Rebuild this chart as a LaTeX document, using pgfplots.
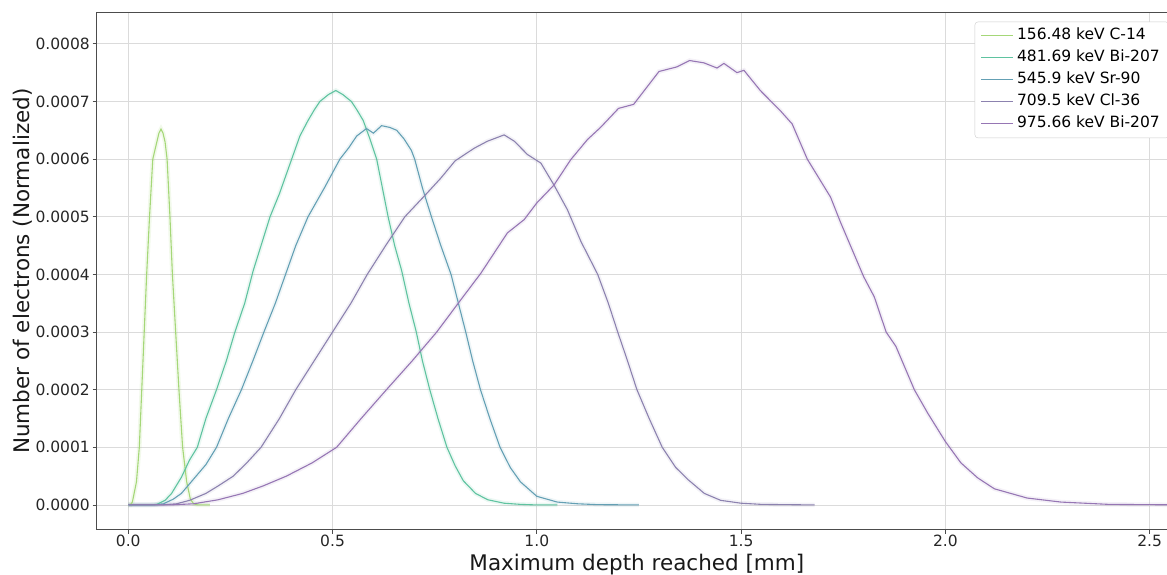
\documentclass[border=0pt]{standalone}
\usepackage{fontspec}
\setmainfont{DejaVu Sans}
\usepackage{pgfplots}
\usepackage{pgfplotstable}
\pgfplotsset{compat=1.18}

\definecolor{cA}{RGB}{165,215,120}
\definecolor{cB}{RGB}{95,195,160}
\definecolor{cC}{RGB}{100,160,180}
\definecolor{cD}{RGB}{140,130,175}
\definecolor{cE}{RGB}{150,118,180}

\pgfplotstableread{
x y
0 0
0.005 0
0.01 0.000005
0.02 0.00004
0.027 0.0001
0.033 0.0002
0.039 0.0003
0.045 0.0004
0.052 0.0005
0.06 0.0006
0.07 0.00063
0.075 0.000645
0.08 0.000652
0.085 0.000645
0.09 0.00063
0.095 0.0006
0.102 0.0005
0.108 0.0004
0.116 0.0003
0.124 0.0002
0.133 0.0001
0.143 0.00004
0.152 0.00001
0.16 0.000002
0.17 0
0.2 0
}\tA

\pgfplotstableread{
x y
0 0
0.05 0
0.07 0.000001
0.09 0.000008
0.106 0.00002
0.13 0.000048
0.15 0.000078
0.169 0.0001
0.19 0.00015
0.216 0.0002
0.24 0.00025
0.261 0.0003
0.285 0.00035
0.306 0.000407
0.325 0.00045
0.347 0.0005
0.37 0.00054
0.40 0.0006
0.42 0.00064
0.44 0.000667
0.455 0.000685
0.469 0.0007
0.49 0.000712
0.508 0.000719
0.525 0.000712
0.546 0.0007
0.56 0.000685
0.575 0.000667
0.59 0.000638
0.608 0.0006
0.622 0.00055
0.636 0.0005
0.652 0.00045
0.669 0.000407
0.687 0.00035
0.705 0.0003
0.72 0.00025
0.738 0.0002
0.758 0.00015
0.78 0.0001
0.80 0.000068
0.82 0.000042
0.85 0.00002
0.88 0.000009
0.92 0.000003
0.96 0.000001
1.0 0
1.05 0
}\tB

\pgfplotstableread{
x y
0 0
0.06 0
0.086 0.000002
0.11 0.00001
0.13 0.00002
0.16 0.000045
0.19 0.00007
0.216 0.0001
0.245 0.00015
0.277 0.0002
0.305 0.00025
0.332 0.0003
0.36 0.00035
0.385 0.0004
0.41 0.00045
0.44 0.0005
0.48 0.00055
0.518 0.0006
0.54 0.00062
0.559 0.00064
0.583 0.000653
0.60 0.000645
0.62 0.000658
0.64 0.000655
0.657 0.00065
0.675 0.000635
0.693 0.000615
0.701 0.0006
0.72 0.00055
0.742 0.0005
0.765 0.00045
0.79 0.0004
0.808 0.00035
0.826 0.0003
0.843 0.00025
0.862 0.0002
0.885 0.00015
0.91 0.0001
0.935 0.000065
0.96 0.00004
1.0 0.000015
1.05 0.000005
1.1 0.000002
1.15 0.0000005
1.25 0
}\tC

\pgfplotstableread{
x y
0 0
0.08 0
0.118 0.000002
0.15 0.000008
0.19 0.00002
0.22 0.000033
0.257 0.00005
0.29 0.000073
0.325 0.0001
0.37 0.00015
0.41 0.0002
0.455 0.00025
0.50 0.0003
0.545 0.00035
0.585 0.0004
0.63 0.00045
0.677 0.0005
0.73 0.00054
0.765 0.000567
0.80 0.000597
0.847 0.000619
0.879 0.000631
0.92 0.000642
0.945 0.000631
0.977 0.000608
1.01 0.000593
1.042 0.000555
1.075 0.000512
1.108 0.000457
1.149 0.0004
1.175 0.00035
1.198 0.0003
1.222 0.00025
1.245 0.0002
1.275 0.00015
1.307 0.0001
1.34 0.000065
1.37 0.000044
1.41 0.00002
1.45 0.000008
1.5 0.000003
1.55 0.000001
1.68 0
}\tD

\pgfplotstableread{
x y
0 0
0.1 0
0.16 0.000002
0.22 0.000009
0.28 0.00002
0.33 0.000033
0.387 0.00005
0.45 0.000073
0.51 0.0001
0.57 0.00015
0.632 0.0002
0.695 0.00025
0.755 0.0003
0.814 0.000356
0.863 0.000402
0.928 0.000472
0.969 0.000495
1.0 0.000524
1.042 0.000555
1.083 0.000599
1.124 0.000634
1.156 0.000655
1.2 0.000688
1.237 0.000695
1.262 0.000718
1.299 0.000752
1.343 0.00076
1.374 0.000771
1.409 0.000767
1.441 0.000758
1.458 0.000766
1.49 0.00075
1.507 0.000754
1.547 0.000719
1.596 0.000684
1.625 0.000661
1.662 0.0006
1.719 0.000534
1.743 0.000491
1.80 0.000396
1.826 0.000361
1.855 0.0003
1.879 0.000275
1.924 0.0002
1.957 0.000159
2.0 0.00011
2.038 0.000073
2.079 0.000047
2.12 0.000028
2.2 0.000012
2.283 0.000005
2.4 0.000001
2.6 0
}\tE

\begin{document}
\begin{tikzpicture}
\useasboundingbox (0,0) rectangle (1167pt,574pt);
\begin{axis}[
  at={(96.7pt,44.5pt)}, anchor=south west,
  scale only axis,
  width=1080.3pt, height=516.8pt,
  xmin=-0.0773, xmax=2.567,
  ymin=-0.0000426, ymax=0.000854,
  xtick={0,0.5,1,1.5,2,2.5},
  ytick={0,0.0001,0.0002,0.0003,0.0004,0.0005,0.0006,0.0007,0.0008},
  scaled y ticks=false, scaled x ticks=false,
  xticklabel style={/pgf/number format/fixed, /pgf/number format/fixed zerofill, /pgf/number format/precision=1},
  yticklabel style={/pgf/number format/fixed, /pgf/number format/fixed zerofill, /pgf/number format/precision=4},
  /pgf/number format/assume math mode=true,
  tick label style={font=\fontsize{15.5}{18}\selectfont, text=black!85},
  xticklabel style={inner sep=0pt, anchor=north, yshift=-1pt},
  yticklabel style={inner sep=0pt, anchor=east, xshift=-2.7pt},
  tick pos=left, tick align=outside,
  major tick length=4pt,
  major tick style={line width=0.8pt, draw=black!70},
  grid=major,
  major grid style={line width=0.8pt, draw=black!14},
  axis line style={line width=1pt, draw=black!70},
  xlabel={Maximum depth reached [mm]},
  ylabel={Number of electrons (Normalized)},
  every axis x label/.style={at={(rel axis cs:0.5,0)}, anchor=base, yshift=-40.5pt,
    font=\fontsize{21.5}{25}\selectfont, text=black!90},
  every axis y label/.style={at={([xshift=-73.7pt]rel axis cs:0,0.5)}, anchor=center, rotate=90,
    font=\fontsize{21.5}{25}\selectfont, text=black!90},
  legend style={at={(rel axis cs:1,1)}, anchor=north east, xshift=-8pt, yshift=-9pt,
    font=\fontsize{15.5}{18}\selectfont, draw=black!20, fill=white,
    rounded corners=3pt, inner xsep=6pt, inner ysep=3pt,
    row sep=0pt,
    nodes={text height=11pt, text depth=3pt, inner ysep=4pt, inner xsep=3pt}},
  legend cell align=left,
  legend image code/.code={\draw[#1] (0pt,0pt) -- (32pt,0pt);},
  clip=true,
]
\addplot[color=cA, line width=4.5pt, opacity=0.15, forget plot] table {\tA};
\addplot[color=cB, line width=4.5pt, opacity=0.12, forget plot] table {\tB};
\addplot[color=cC, line width=4.5pt, opacity=0.10, forget plot] table {\tC};
\addplot[color=cD, line width=4.5pt, opacity=0.10, forget plot] table {\tD};
\addplot[color=cE, line width=4.5pt, opacity=0.10, forget plot] table {\tE};
\addplot[color=cA, line width=1.1pt] table {\tA};
\addlegendentry{156.48 keV C-14}
\addplot[color=cB, line width=1.1pt] table {\tB};
\addlegendentry{481.69 keV Bi-207}
\addplot[color=cC, line width=1.1pt] table {\tC};
\addlegendentry{545.9 keV Sr-90}
\addplot[color=cD, line width=1.1pt] table {\tD};
\addlegendentry{709.5 keV Cl-36}
\addplot[color=cE, line width=1.1pt] table {\tE};
\addlegendentry{975.66 keV Bi-207}
\end{axis}
\end{tikzpicture}
\end{document}
